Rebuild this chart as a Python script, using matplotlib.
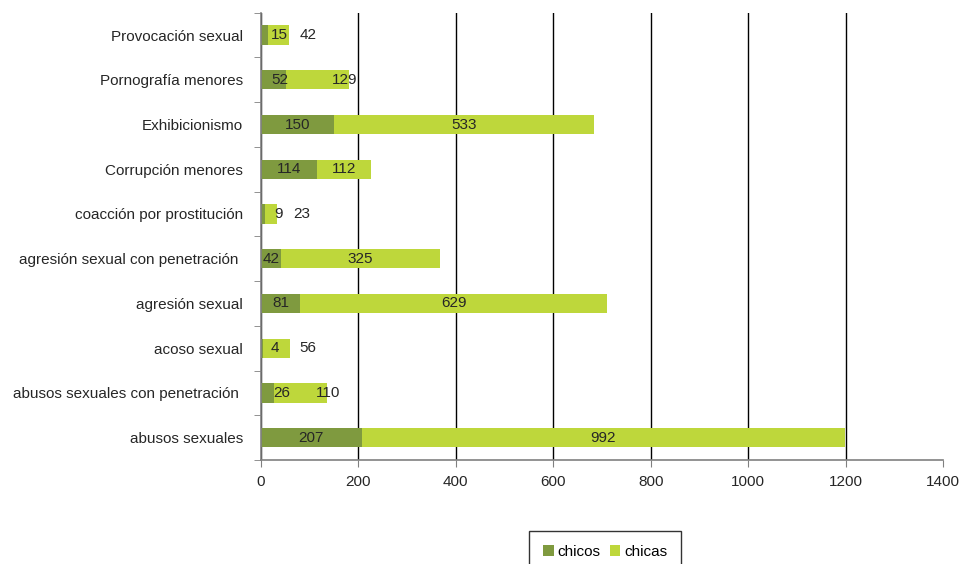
import numpy as np
import matplotlib
matplotlib.use("Agg")
import matplotlib.pyplot as plt

plt.rcParams['font.family'] = ['Liberation Sans', 'DejaVu Sans']

# data, bottom row first
categorias = ["abusos sexuales", "abusos sexuales con penetración ", "acoso sexual",
              "agresión sexual", "agresión sexual con penetración ", "coacción por prostitución",
              "Corrupción menores", "Exhibicionismo", "Pornografía menores", "Provocación sexual"]
chicos = [207, 26, 4, 81, 42, 9, 114, 150, 52, 15]
chicas = [992, 110, 56, 629, 325, 23, 112, 533, 129, 42]
xticks = [0, 200, 400, 600, 800, 1000, 1200, 1400]

# labels that were moved by hand in the original (row index -> x in data units)
mover_chicos = {1: 43, 2: 29, 5: 35, 8: 39, 9: 37}
mover_chicas = {1: 138, 2: 96, 5: 84, 8: 172, 9: 96}

col_chicos = "#7f9a3f"
col_chicas = "#bed73b"
fs = 11

fig = plt.figure(figsize=(9.62, 5.64), dpi=100)
ax = fig.add_axes([0.2713, 0.1844, 0.7089, 0.7931])

y = np.arange(len(categorias))
b1 = ax.barh(y, chicos, height=0.43, color=col_chicos, label="chicos", zorder=3)
b2 = ax.barh(y, chicas, left=chicos, height=0.43, color=col_chicas, label="chicas", zorder=3)

for i in range(len(categorias)):
    x1 = mover_chicos.get(i, chicos[i] / 2)
    x2 = mover_chicas.get(i, chicos[i] + chicas[i] / 2)
    ax.text(x1, y[i], str(chicos[i]), ha="center", va="center", fontsize=fs, color="#262626", zorder=4)
    ax.text(x2, y[i], str(chicas[i]), ha="center", va="center", fontsize=fs, color="#262626", zorder=4)

ax.set_xlim(0, 1400)
ax.set_ylim(-0.5, len(categorias) - 0.5)
ax.set_xticks(xticks)
ax.set_xticklabels([str(v) for v in xticks])
ax.set_yticks(y)
ax.set_yticklabels(categorias)
ax.set_yticks(np.arange(-0.5, len(categorias), 1), minor=True)

ax.tick_params(axis="y", which="major", length=0, pad=13, labelsize=fs, labelcolor="#262626")
ax.tick_params(axis="y", which="minor", length=5, color="#808080", direction="out")
ax.tick_params(axis="x", which="major", length=5, color="#808080", direction="out", pad=6,
               labelsize=fs, labelcolor="#262626")

ax.xaxis.grid(True, color="black", linewidth=1, zorder=1)
ax.get_xgridlines()[-1].set_visible(False)
ax.set_axisbelow(True)

for s in ["top", "right"]:
    ax.spines[s].set_visible(False)
for s in ["left", "bottom"]:
    ax.spines[s].set_color("#808080")
    ax.spines[s].set_linewidth(1.2)
    ax.spines[s].set_zorder(5)

leg = fig.legend(handles=[b1, b2], loc="upper center", bbox_to_anchor=(0.629, 0.0585),
                 ncol=2, fontsize=fs, frameon=True, fancybox=False, edgecolor="black",
                 handlelength=0.7, handleheight=0.7, handletextpad=0.25, columnspacing=0.6,
                 borderpad=0.9, borderaxespad=0)
leg.get_frame().set_linewidth(1)

fig.savefig("out.png", dpi=100)
